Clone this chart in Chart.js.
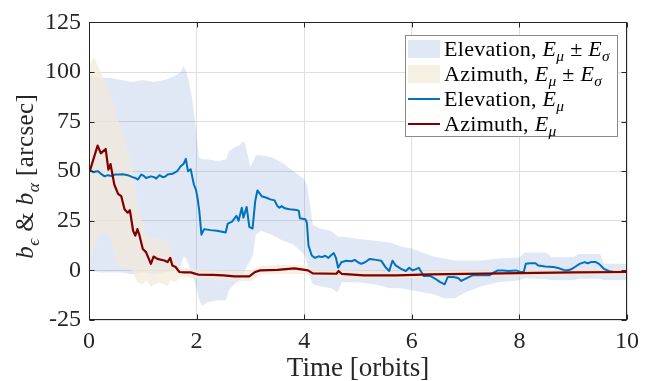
<!DOCTYPE html>
<html>
<head>
<meta charset="utf-8">
<script src="https://cdn.jsdelivr.net/npm/chart.js@4.4.0/dist/chart.umd.min.js"></script>
<style>
  html, body { margin: 0; padding: 0; background: #ffffff; }
  #wrap { width: 646px; height: 381px; }
</style>
</head>
<body>
<div id="wrap"><canvas id="chart" width="646" height="381"></canvas></div>
<script>
// ---- data: pointing bias statistics over time (orbits) ----
const elevT = [0.00,0.04,0.08,0.13,0.17,0.23,0.29,0.35,0.42,0.48,0.55,0.63,0.72,0.81,0.86,0.91,0.97,1.02,1.06,1.15,1.21,1.25,1.31,1.37,1.42,1.46,1.55,1.64,1.70,1.76,1.80,1.84,1.89,1.95,1.99,2.02,2.05,2.09,2.14,2.26,2.38,2.54,2.58,2.66,2.74,2.78,2.84,2.87,2.93,2.98,3.04,3.09,3.13,3.21,3.30,3.37,3.45,3.50,3.54,3.58,3.64,3.73,3.86,3.90,3.92,4.02,4.05,4.08,4.14,4.20,4.27,4.33,4.39,4.45,4.51,4.55,4.59,4.63,4.69,4.78,4.88,4.94,5.00,5.06,5.13,5.22,5.34,5.43,5.52,5.58,5.64,5.70,5.80,5.89,5.95,6.02,6.13,6.22,6.34,6.43,6.52,6.61,6.67,6.77,6.86,6.92,7.04,7.13,7.26,7.44,7.51,7.60,7.70,7.80,7.94,8.02,8.08,8.12,8.20,8.30,8.35,8.48,8.63,8.72,8.85,8.94,9.03,9.12,9.21,9.27,9.33,9.42,9.48,9.57,9.66,9.75,9.87,10.00];
const elevMean = [50,50.2,49.5,49.8,50,48.5,47.4,48,47.6,48.3,48.3,48.5,48,47,46.6,45.8,48.3,47.6,46.6,47.4,47,46.3,48,47,47.3,48.3,48.7,50,52.4,53.8,56.2,50,51,43.3,40.5,36,30,18,20.8,20.3,20,19.1,23.6,24.6,27.5,25,31.6,26.6,32,22,21.1,35,40.3,37.4,36.6,35.8,35.3,32.5,31.6,32.4,31.3,30.8,30.5,30,26.3,25.8,24,12.5,7.5,6.3,7.1,6.7,7.4,6.3,7.9,8.7,6.3,1.3,4.1,4.9,4.6,5.3,4.1,3.3,4.1,5.8,5.3,4.9,1.3,-0.3,4.9,2.5,0.8,-0.3,1.3,0,1.3,-2.8,-2.8,-4.1,-5.8,-7,-3.3,-3.3,-3.8,-5.3,-3.6,-2.5,-2.5,-2.5,-1.3,0,0,-0.3,0,-0.8,-0.8,3.3,3.6,3.6,2.5,2,1.7,1.2,0,0.3,1.7,3.3,4.2,3.6,4.2,4.2,3.3,0.8,-0.3,-0.8,-0.8,-0.8];

const azT = [0.00,0.02,0.08,0.16,0.22,0.26,0.31,0.36,0.40,0.47,0.54,0.60,0.66,0.72,0.76,0.82,0.86,0.90,0.94,1.00,1.06,1.15,1.20,1.27,1.40,1.46,1.51,1.55,1.61,1.68,1.77,1.89,2.04,2.30,2.50,2.70,2.98,3.09,3.18,3.50,3.82,3.95,4.07,4.16,4.60,4.64,4.70,5.11,5.72,6.34,7.00,8.00,9.00,10.00];
const azMean = [50,50.5,55.8,62.9,59,60,61.2,50.8,53.6,43.3,38.6,37.4,30.8,29.1,30.3,20,17.5,20.8,17.5,10.8,9.2,3.3,7,5.8,5,4.2,6.3,2.5,1.7,-0.8,-1,-1,-2.2,-2.3,-2.5,-3,-3,-0.8,0,0.3,1.0,0.5,0,-1.5,-1.7,-0.3,-1.8,-2.5,-2.5,-2,-1.8,-1.4,-1.0,-0.8];

// E_mu +/- E_sigma envelopes
const elevBandT = [0,0.2,0.4,0.6,0.8,1.0,1.2,1.4,1.6,1.7,1.76,1.8,1.85,1.92,1.99,2.04,2.1,2.2,2.4,2.55,2.6,2.7,2.8,2.85,2.9,2.95,3.0,3.05,3.1,3.2,3.4,3.6,3.8,4.0,4.05,4.1,4.16,4.3,4.5,4.62,4.7,5.0,5.3,5.6,5.8,6.0,6.2,6.4,6.6,6.8,7.0,7.3,7.6,8.0,8.1,8.5,8.6,9.0,9.1,9.5,9.57,10];
const elevUpper = [99,97,97,96,95,96,95,96,98,100,103,101,96,86,71,57,56,56,55,56,60,62,63,65,64,58,52,55,58,58,57,54,50,46,43,35,23,21,20,17,17,16,15,14,12,11,9,7,6,5,5,5,6,6.5,9,9,6.6,6.6,8.3,8.3,3.3,3.3];
const elevLower = [0,-1,-1,-1,-2,-1,-2,-1,0,2,7,6,3,-2,-8,-14,-18,-16,-15,-15,-10,-7,-5,-3,0,3,5,8,18,20,18,15,13,8,4,-3,-7,-8,-9,-11,-6,-6,-7,-9,-9,-10,-11,-12,-14,-14,-11,-8,-6,-5,-4,-4.5,-5,-5,-4.2,-4.2,-5,-5];

const azBandT = [0,0.05,0.1,0.2,0.3,0.4,0.45,0.5,0.6,0.7,0.8,0.85,0.9,1.0,1.06,1.15,1.3,1.46,1.52,1.61,1.68,1.8,2.0,2.5,3.0,3.2,3.6,4.0,4.2,5.0,6.0,7.0,8.0,9.0,10];
const azUpper = [101,106,107,101,95,88,84,79,71,62,52,44,33,23,18,16,16,15,10,5,2,1.2,0.5,0,0,2.2,3,2.5,1,0,0,0.2,0.5,0.8,1];
const azLower = [3,8,12,18,20,17,10,5,2,1,0,-3,-6,-7,-5,-8,-6,-8,-5,-6,-4,-3.5,-4.5,-5,-5.5,-2,-1.8,-1.8,-3.5,-4.5,-4.2,-3.6,-3.2,-2.8,-2.5];

const xTicks = [0, 2, 4, 6, 8, 10];
const yTicks = [-25, 0, 25, 50, 75, 100, 125];

const xTitle = 'Time [orbits]';
const yTitleParts = [
  { t: 'b', it: true }, { t: 'ϵ', it: true, sub: true }, { t: ' & ' },
  { t: 'b', it: true }, { t: 'α', it: true, sub: true }, { t: ' [arcsec]' }
];
const legendLabels = [
  [{ t: 'Elevation, ' }, { t: 'E', it: true }, { t: 'μ', it: true, sub: true }, { t: ' ± ' }, { t: 'E', it: true }, { t: 'σ', it: true, sub: true }],
  [{ t: 'Azimuth, ' }, { t: 'E', it: true }, { t: 'μ', it: true, sub: true }, { t: ' ± ' }, { t: 'E', it: true }, { t: 'σ', it: true, sub: true }],
  [{ t: 'Elevation, ' }, { t: 'E', it: true }, { t: 'μ', it: true, sub: true }],
  [{ t: 'Azimuth, ' }, { t: 'E', it: true }, { t: 'μ', it: true, sub: true }]
];

// ---- styling ----
const FONT = '"Liberation Serif", "Times New Roman", serif';
const TEXT = '#262626';
const BLUE = '#0072BD';
const RED = '#7E0000';
const BLUE_FILL = 'rgba(60,110,200,0.16)';
const TAN_FILL = 'rgba(242,234,219,0.75)';

const xy = (ts, vs) => ts.map((t, i) => ({ x: t, y: vs[i] }));

function richWidth(ctx, parts, size) {
  let w = 0;
  for (const p of parts) {
    const s = p.sub ? size * 0.7 : size;
    ctx.font = (p.it ? 'italic ' : '') + s + 'px ' + FONT;
    w += ctx.measureText(p.t).width;
  }
  return w;
}
function drawRich(ctx, parts, x, y, size) {
  let cx = x;
  for (const p of parts) {
    const s = p.sub ? size * 0.7 : size;
    ctx.font = (p.it ? 'italic ' : '') + s + 'px ' + FONT;
    ctx.fillText(p.t, cx, y + (p.sub ? size * 0.22 : 0));
    cx += ctx.measureText(p.t).width;
  }
}

// frame, inward ticks, y title and legend
const decorations = {
  id: 'decorations',
  afterDatasetsDraw(chart) {
    const { ctx, chartArea: a, scales } = chart;
    const L = Math.round(a.left) + 0.5, R = Math.round(a.right) - 0.5;
    const T = Math.round(a.top) + 0.5, B = Math.round(a.bottom) - 0.5;
    ctx.save();
    ctx.strokeStyle = TEXT;
    ctx.lineWidth = 1;
    ctx.beginPath();
    const tl = 5;
    xTicks.forEach(v => {
      const px = Math.round(scales.x.getPixelForValue(v)) + 0.5;
      ctx.moveTo(px, B); ctx.lineTo(px, B - tl);
      ctx.moveTo(px, T); ctx.lineTo(px, T + tl);
    });
    yTicks.forEach(v => {
      const py = Math.round(scales.y.getPixelForValue(v)) + 0.5;
      ctx.moveTo(L, py); ctx.lineTo(L + tl, py);
      ctx.moveTo(R, py); ctx.lineTo(R - tl, py);
    });
    ctx.stroke();
    ctx.strokeRect(L, T, R - L, B - T);
    ctx.restore();
  },
  afterDraw(chart) {
    const { ctx, chartArea: a } = chart;
    ctx.save();
    ctx.fillStyle = TEXT;
    ctx.textBaseline = 'alphabetic';
    // y-axis title
    const ys = 25;
    ctx.save();
    ctx.translate(33, (a.top + a.bottom) / 2 + 5);
    ctx.rotate(-Math.PI / 2);
    ctx.letterSpacing = '0.4px';
    const w = richWidth(ctx, yTitleParts, ys);
    drawRich(ctx, yTitleParts, -w / 2, 0, ys);
    ctx.restore();

    // legend
    const bx = 405.5, by = 35.5, bw = 212, bh = 101;
    ctx.fillStyle = '#ffffff';
    ctx.fillRect(bx, by, bw, bh);
    ctx.strokeStyle = '#8a8a8a';
    ctx.lineWidth = 1;
    ctx.strokeRect(bx, by, bw, bh);
    const rows = [49, 74, 99, 124];
    const sx0 = 408, sx1 = 440;
    // patches
    ctx.fillStyle = BLUE_FILL; ctx.fillRect(sx0, rows[0] - 9, sx1 - sx0, 18);
    ctx.fillStyle = TAN_FILL; ctx.fillRect(sx0, rows[1] - 9, sx1 - sx0, 18);
    // lines
    ctx.lineWidth = 2;
    ctx.strokeStyle = BLUE;
    ctx.beginPath(); ctx.moveTo(sx0, rows[2]); ctx.lineTo(sx1, rows[2]); ctx.stroke();
    ctx.strokeStyle = RED;
    ctx.beginPath(); ctx.moveTo(sx0, rows[3]); ctx.lineTo(sx1, rows[3]); ctx.stroke();
    ctx.fillStyle = '#000000';
    ctx.letterSpacing = '0.3px';
    legendLabels.forEach((parts, i) => drawRich(ctx, parts, 444, rows[i] + 7, 22));
    ctx.restore();
  }
};

new Chart(document.getElementById('chart'), {
  type: 'line',
  data: {
    datasets: [
      { label: 'elevLower', data: xy(elevBandT, elevLower), borderWidth: 0, pointRadius: 0, fill: false, order: 40 },
      { label: 'elevUpper', data: xy(elevBandT, elevUpper), borderWidth: 0, pointRadius: 0, fill: '-1', backgroundColor: BLUE_FILL, order: 40 },
      { label: 'azLower', data: xy(azBandT, azLower), borderWidth: 0, pointRadius: 0, fill: false, order: 30 },
      { label: 'azUpper', data: xy(azBandT, azUpper), borderWidth: 0, pointRadius: 0, fill: '-1', backgroundColor: TAN_FILL, order: 30 },
      { label: 'Elevation', data: xy(elevT, elevMean), borderColor: BLUE, borderWidth: 2, pointRadius: 0, fill: false, order: 20, borderJoinStyle: 'round' },
      { label: 'Azimuth', data: xy(azT, azMean), borderColor: RED, borderWidth: 2.2, pointRadius: 0, fill: false, order: 10, borderJoinStyle: 'round' }
    ]
  },
  options: {
    responsive: false,
    animation: false,
    devicePixelRatio: 1,
    layout: { padding: { top: 19, right: 14, left: 0, bottom: 0 } },
    plugins: { legend: { display: false }, tooltip: { enabled: false } },
    elements: { line: { tension: 0 } },
    scales: {
      x: {
        type: 'linear', min: 0, max: 10,
        afterBuildTicks: s => { s.ticks = xTicks.map(v => ({ value: v })); },
        afterFit: s => { s.height = 61; },
        grid: { color: '#dedede', lineWidth: 1, drawTicks: false },
        border: { display: false },
        ticks: { color: TEXT, padding: 7, maxRotation: 0, font: { family: FONT, size: 24 } },
        title: { display: true, text: xTitle, color: TEXT, padding: { top: 0, bottom: -4 }, font: { family: FONT, size: 27 } }
      },
      y: {
        type: 'linear', min: -25, max: 125,
        afterBuildTicks: s => { s.ticks = yTicks.map(v => ({ value: v })); },
        afterFit: s => { s.width = 89; },
        grid: { color: '#dedede', lineWidth: 1, drawTicks: false },
        border: { display: false },
        ticks: { color: TEXT, padding: 8, font: { family: FONT, size: 24 } }
      }
    }
  },
  plugins: [decorations]
});
</script>
</body>
</html>
